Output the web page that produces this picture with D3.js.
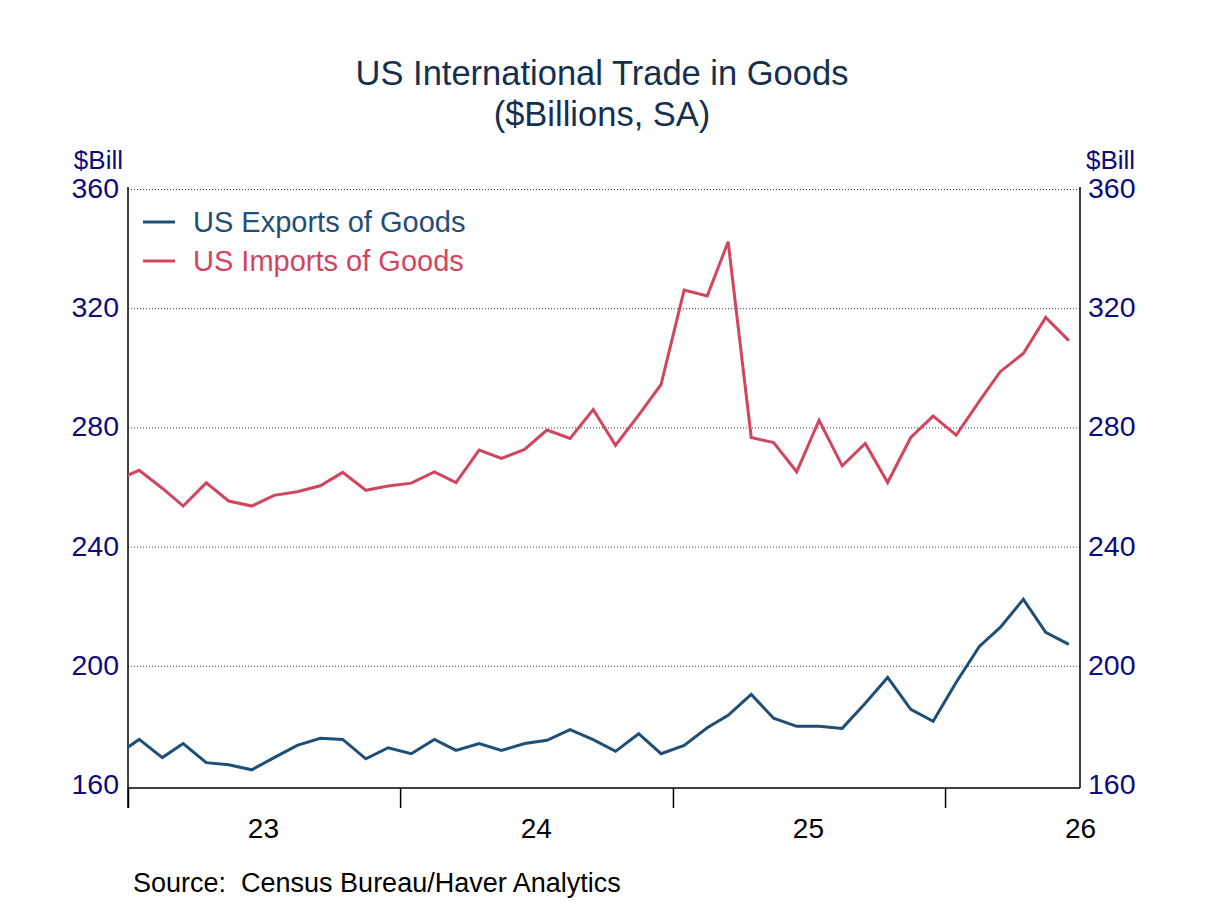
<!DOCTYPE html>
<html>
<head>
<meta charset="utf-8">
<script src="https://cdn.jsdelivr.net/npm/d3@7"></script>
<style>
	body { margin: 0; background: #ffffff; }
	text { font-family: "Liberation Sans", Arial, sans-serif; }
</style>
</head>
<body>
<svg id="chart" width="1208" height="906"></svg>
<script>
"use strict";

// monthly, Dec 2022 .. Jun 2026 ($Bill, SA)
var months = [
	"2022-12",
	"2023-01","2023-02","2023-03","2023-04","2023-05","2023-06","2023-07","2023-08","2023-09","2023-10","2023-11","2023-12",
	"2024-01","2024-02","2024-03","2024-04","2024-05","2024-06","2024-07","2024-08","2024-09","2024-10","2024-11","2024-12",
	"2025-01","2025-02","2025-03","2025-04","2025-05","2025-06","2025-07","2025-08","2025-09","2025-10","2025-11","2025-12",
	"2026-01","2026-02","2026-03","2026-04","2026-05","2026-06"
];
var exportsGoods = [
	169.9,
	175.3, 169.2, 173.9, 167.5, 166.8, 165.1, 169.2, 173.3, 175.7, 175.3, 168.8, 172.5,
	170.5, 175.3, 171.6, 173.9, 171.6, 173.9, 175.0, 178.6, 175.2, 171.3, 177.2, 170.5,
	173.3, 179.2, 183.4, 190.4, 182.4, 179.7, 179.7, 179.0, 187.4, 196.1, 185.4, 181.4,
	194.5, 206.5, 212.9, 222.3, 211.2, 207.2
];
var importsGoods = [
	262.3,
	265.6, 259.6, 253.6, 261.4, 255.3, 253.6, 257.2, 258.4, 260.4, 264.9, 258.9, 260.3,
	261.3, 265.1, 261.5, 272.4, 269.6, 272.6, 279.1, 276.3, 286.0, 274.0, 284.1, 294.4,
	326.1, 324.1, 342.3, 276.6, 274.9, 265.1, 282.4, 267.1, 274.6, 261.5, 276.6, 283.8,
	277.4, 288.8, 298.7, 304.8, 316.9, 309.1
];
var seriesNames = ["US Exports of Goods", "US Imports of Goods"];
var seriesColors = ["#1f4e77", "#d2455f"];
var yTicks = [160, 200, 240, 280, 320, 360];
var yearTicks = ["2023-01-01", "2024-01-01", "2025-01-01", "2026-01-01"];
var yearLabels = ["2023-07-01", "2024-07-01", "2025-07-01", "2026-07-01"];

var plotL = 128, plotR = 1080, plotT = 189, plotB = 785, axisY = 788;
var parseMonth = d3.timeParse("%Y-%m");
var parseDay = d3.timeParse("%Y-%m-%d");

var x = d3.scaleTime()
	.domain([parseDay("2023-01-01"), parseDay("2026-07-01")])
	.range([plotL, plotR]);
var y = d3.scaleLinear()
	.domain([160, 360])
	.range([plotB, plotT]);

var svg = d3.select("#chart");

svg.append("defs").append("clipPath").attr("id", "plotclip")
	.append("rect")
	.attr("x", plotL).attr("y", 0)
	.attr("width", plotR - plotL).attr("height", 906);

// titles
svg.append("text").attr("x", 602).attr("y", 85)
	.attr("text-anchor", "middle").attr("font-size", "34.5px").attr("fill", "#15304e")
	.text("US International Trade in Goods");
svg.append("text").attr("x", 602).attr("y", 126)
	.attr("text-anchor", "middle").attr("font-size", "34.5px").attr("fill", "#15304e")
	.text("($Billions, SA)");

// gridlines
var grid = svg.append("g").attr("transform", "translate(" + plotL + ",0)")
	.call(d3.axisLeft(y).tickValues(yTicks.slice(1)).tickSize(-(plotR - plotL)).tickFormat(""));
grid.select(".domain").remove();
grid.selectAll("line")
	.attr("stroke", "#3c3c5a").attr("stroke-width", 1).attr("stroke-dasharray", "1,2");

// y tick labels, both sides
var yLeft = svg.append("g").attr("transform", "translate(" + plotL + ",0)")
	.call(d3.axisLeft(y).tickValues(yTicks).tickSize(0).tickPadding(9));
var yRight = svg.append("g").attr("transform", "translate(" + plotR + ",0)")
	.call(d3.axisRight(y).tickValues(yTicks).tickSize(0).tickPadding(8));
[yLeft, yRight].forEach(function(g){
	g.select(".domain").remove();
	g.selectAll("text")
		.attr("font-family", '"Liberation Sans", Arial, sans-serif')
		.attr("font-size", "28.5px").attr("fill", "#0c0c7c").attr("dy", "0.3em");
});

svg.append("text").attr("x", 123).attr("y", 169).attr("text-anchor", "end")
	.attr("font-size", "26px").attr("fill", "#0c0c7c").text("$Bill");
svg.append("text").attr("x", 1086).attr("y", 169).attr("text-anchor", "start")
	.attr("font-size", "26px").attr("fill", "#0c0c7c").text("$Bill");

// x axis: ticks at year starts, labels mid year
var xTicks = svg.append("g").attr("transform", "translate(0," + axisY + ")")
	.call(d3.axisBottom(x).tickValues(yearTicks.map(parseDay)).tickSize(20).tickFormat(""));
xTicks.select(".domain").remove();
xTicks.selectAll("line").attr("stroke", "#000").attr("stroke-width", 1.5);

var xLabels = svg.append("g").attr("transform", "translate(0," + axisY + ")")
	.call(d3.axisBottom(x).tickValues(yearLabels.map(parseDay)).tickSize(0).tickPadding(30)
		.tickFormat(d3.timeFormat("%y")));
xLabels.select(".domain").remove();
xLabels.selectAll("text")
	.attr("font-family", '"Liberation Sans", Arial, sans-serif')
	.attr("font-size", "28px").attr("fill", "#000");

// frame
svg.append("line").attr("x1", plotL).attr("x2", plotR).attr("y1", axisY).attr("y2", axisY)
	.attr("stroke", "#000").attr("stroke-width", 1.5);
svg.append("line").attr("x1", plotL).attr("x2", plotL).attr("y1", plotT - 2).attr("y2", axisY + 20)
	.attr("stroke", "#000").attr("stroke-width", 1.5);
svg.append("line").attr("x1", plotR).attr("x2", plotR).attr("y1", plotT - 2).attr("y2", axisY)
	.attr("stroke", "#000").attr("stroke-width", 1.5);

// series
var dates = months.map(function(m){ return d3.timeDay.offset(parseMonth(m), 15); });
var line = d3.line()
	.x(function(d, i){ return x(dates[i]); })
	.y(function(d){ return y(d); });

[exportsGoods, importsGoods].forEach(function(vals, k){
	svg.append("path")
		.attr("clip-path", "url(#plotclip)")
		.attr("d", line(vals))
		.attr("fill", "none")
		.attr("stroke", seriesColors[k])
		.attr("stroke-width", 3)
		.attr("stroke-linejoin", "miter");
});

// legend
seriesNames.forEach(function(name, k){
	var ly = 222 + k * 39;
	svg.append("line").attr("x1", 143).attr("x2", 175).attr("y1", ly).attr("y2", ly)
		.attr("stroke", seriesColors[k]).attr("stroke-width", 3);
	svg.append("text").attr("x", 193).attr("y", ly + 10)
		.attr("font-size", "29px").attr("fill", seriesColors[k]).text(name);
});

// source
svg.append("text").attr("x", 133).attr("y", 892)
	.attr("font-size", "27px").attr("fill", "#000")
	.style("white-space", "pre")
	.text("Source:  Census Bureau/Haver Analytics");
</script>
</body>
</html>
